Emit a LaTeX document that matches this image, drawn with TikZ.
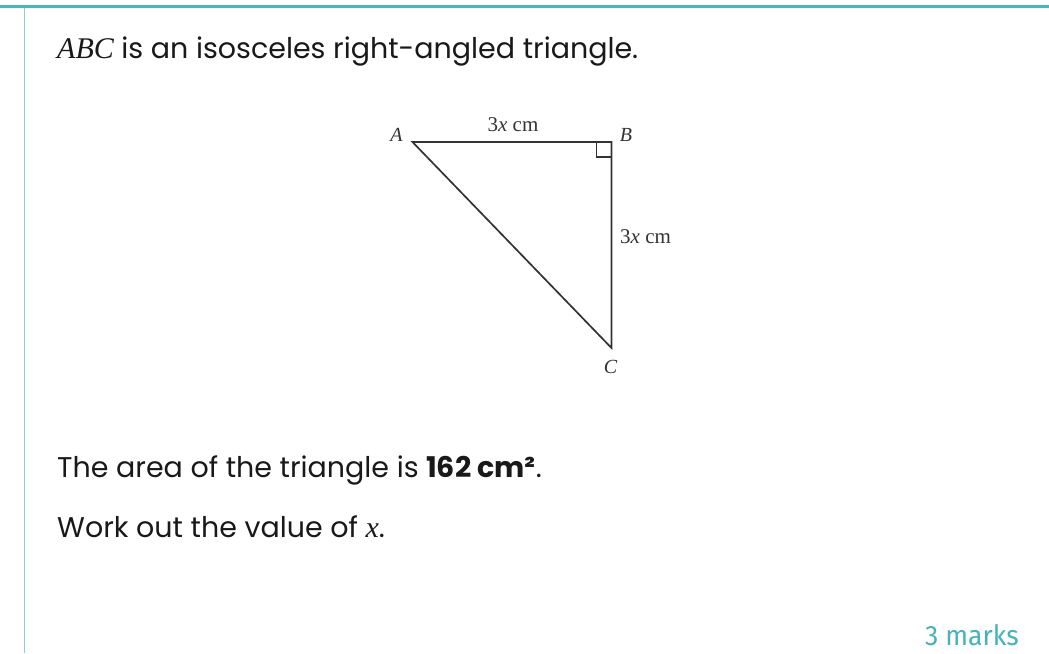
\documentclass[tikz,border=0pt]{standalone}
\usepackage{fontspec}
\setmainfont{Poppins}
\newfontfamily\serifx{Liberation Serif}
\newfontfamily\condsans{Fira Sans}
\definecolor{tealtop}{HTML}{4AB5BD}
\definecolor{tealside}{HTML}{8AD0D6}
\definecolor{tealtext}{HTML}{45B3BC}
\definecolor{linegrey}{HTML}{333333}
\tikzset{
  qtext/.style={anchor=base west, inner sep=0pt, font=\fontsize{28.5}{32}\selectfont, text=black!90},
  vlabel/.style={inner sep=0pt, font=\serifx\itshape\fontsize{20}{24}\selectfont, text=linegrey},
  slabel/.style={inner sep=0pt, font=\serifx\fontsize{21}{25}\selectfont, text=linegrey},
  tri/.style={draw=linegrey, line width=1.7pt, line join=miter}
}
\begin{document}
\begin{tikzpicture}[x=1pt,y=-1pt]
\useasboundingbox (0,0) rectangle (1049,653);
\fill[white] (0,0) rectangle (1049,653);
% frame lines
\draw[tealtop, line width=3pt] (0,6) -- (1049,6);
\draw[tealside, line width=1.6pt] (24.5,7.5) -- (24.5,653);
% text
\node[qtext] (t1) at (57,58) {{\serifx\itshape\fontsize{30}{32}\selectfont ABC} is an isosceles right-angled triangle.};
\node[qtext] (t2) at (57,477) {The area of the triangle is \textbf{162 cm²}.};
\node[qtext] (t3) at (57,537) {Work out the value of {\serifx\itshape\fontsize{30}{32}\selectfont x}.};
\node[anchor=base east, inner sep=0pt, text=tealtext, font=\condsans\fontsize{28}{30}\selectfont] (marks) at (1019,645) {\scalebox{0.95}[1]{3 marks}};
% triangle
\coordinate (A) at (412.5,142);
\coordinate (B) at (611.5,142);
\coordinate (C) at (611.5,348);
\draw[tri] (A) -- (B) -- (C) -- cycle;
\draw[draw=linegrey, line width=1.4pt] ([xshift=-15pt]B) -- ([xshift=-15pt,yshift=-15pt]B) -- ([yshift=-15pt]B);
\node[vlabel] (la) at (396.5,135) {A};
\node[vlabel] (lb) at (626,135) {B};
\node[vlabel] (lc) at (610.5,367) {C};
\node[slabel] (lab) at (513,125) {3\textit{x} cm};
\node[slabel, anchor=west] (lbc) at (620,237) {3\textit{x} cm};
\end{tikzpicture}
\end{document}
